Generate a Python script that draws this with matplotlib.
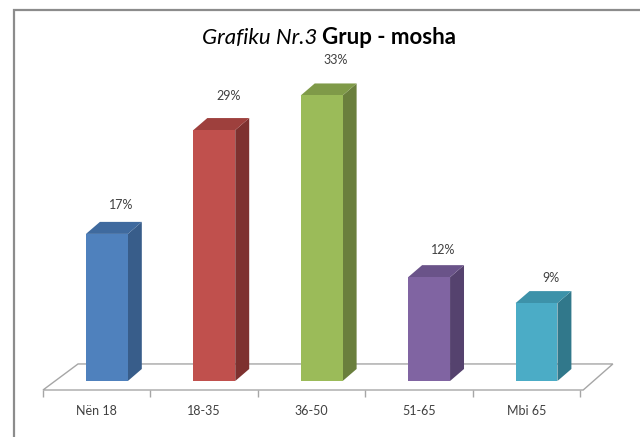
import matplotlib
matplotlib.use('Agg')
import matplotlib.pyplot as plt
from matplotlib.patches import Polygon, Rectangle

# data
categories = ['Nën 18', '18-35', '36-50', '51-65', 'Mbi 65']
values = [17, 29, 33, 12, 9]
front_colors = ['#4F81BD', '#C0504D', '#9BBB59', '#8064A2', '#4BACC6']
side_colors = ['#385D8A', '#7E312F', '#6A7F3D', '#55426E', '#31788B']
top_colors = ['#3F6A9E', '#9E403D', '#7F9A48', '#6A5389', '#3D92A9']

plt.rcParams['font.family'] = ['Lato', 'DejaVu Sans']

W, H = 640, 437
fig = plt.figure(figsize=(W / 100, H / 100), dpi=100)

# outer chart border (only top/left visible in the crop)
fig.patches.append(Rectangle((14 / W, -0.05), 1.2, (H - 10) / H + 0.05,
                             transform=fig.transFigure, fill=False,
                             edgecolor='#8C8C8C', linewidth=1.6))

ax = fig.add_axes([43 / W, (H - 390) / H, (580 - 43) / W, (390 - 60) / H])
ax.set_xlim(-0.5, 4.5)
ax.set_ylim(-1.04, 37.1)
for s in ax.spines.values():
    s.set_visible(False)
ax.set_yticks([])

# 3D look parameters (data units)
DX, DY = 0.13, 1.39
FLOOR_DX, FLOOR_FRONT, FLOOR_BACK = 0.326, -1.04, 1.97
BAR_SHIFT, BAR_W = 0.095, 0.39

# floor
floor = Polygon([(-0.5, FLOOR_FRONT), (4.53, FLOOR_FRONT),
                 (4.53 + FLOOR_DX - 0.05, FLOOR_BACK), (-0.5 + FLOOR_DX, FLOOR_BACK)],
                closed=True, facecolor='white', edgecolor='#A6A6A6',
                linewidth=1.0, clip_on=False, zorder=1)
ax.add_patch(floor)

xs = [i + BAR_SHIFT for i in range(len(categories))]
bars = ax.bar(xs, values, width=BAR_W, color=front_colors, linewidth=0, zorder=3)
for b, v, sc, tc in zip(bars, values, side_colors, top_colors):
    x0 = b.get_x()
    x1 = x0 + b.get_width()
    ax.add_patch(Polygon([(x1, 0), (x1 + DX, DY), (x1 + DX, v + DY), (x1, v)],
                         closed=True, facecolor=sc, edgecolor='none',
                         zorder=2, clip_on=False))
    ax.add_patch(Polygon([(x0, v), (x0 + DX, v + DY), (x1 + DX, v + DY), (x1, v)],
                         closed=True, facecolor=tc, edgecolor='none',
                         zorder=2, clip_on=False))
    # label offset grows a little with height (perspective of the 3D chart)
    off = (22 + 0.4 * v) * 0.72
    ax.annotate(f'{v}%', xy=(b.get_x() + b.get_width() / 2 + DX, v),
                xytext=(0, off), textcoords='offset points',
                ha='center', va='center', fontsize=9, color='#404040')

ax.set_xticks(range(len(categories)))
ax.set_xticklabels(categories, fontsize=9, color='#404040')
ax.tick_params(axis='x', which='major', length=0, pad=11)
ax.set_xticks([i - 0.5 for i in range(len(categories) + 1)], minor=True)
ax.tick_params(axis='x', which='minor', length=5, width=1.0, color='#A6A6A6')

# title: italic part + bold part
fig.canvas.draw()
r = fig.canvas.get_renderer()
t1 = fig.text(0, 0, 'Grafiku Nr.3 ', fontsize=16, style='italic', color='black')
t2 = fig.text(0, 0, 'Grup - mosha', fontsize=16, weight='bold', color='black')
w1 = t1.get_window_extent(r).width / W
w2 = t2.get_window_extent(r).width / W
x_start = 329 / W - (w1 + w2) / 2
ty = (H - 38) / H
t1.set_position((x_start, ty))
t1.set_va('center')
t2.set_position((x_start + w1, ty))
t2.set_va('center')

fig.savefig('out.png', dpi=100)
